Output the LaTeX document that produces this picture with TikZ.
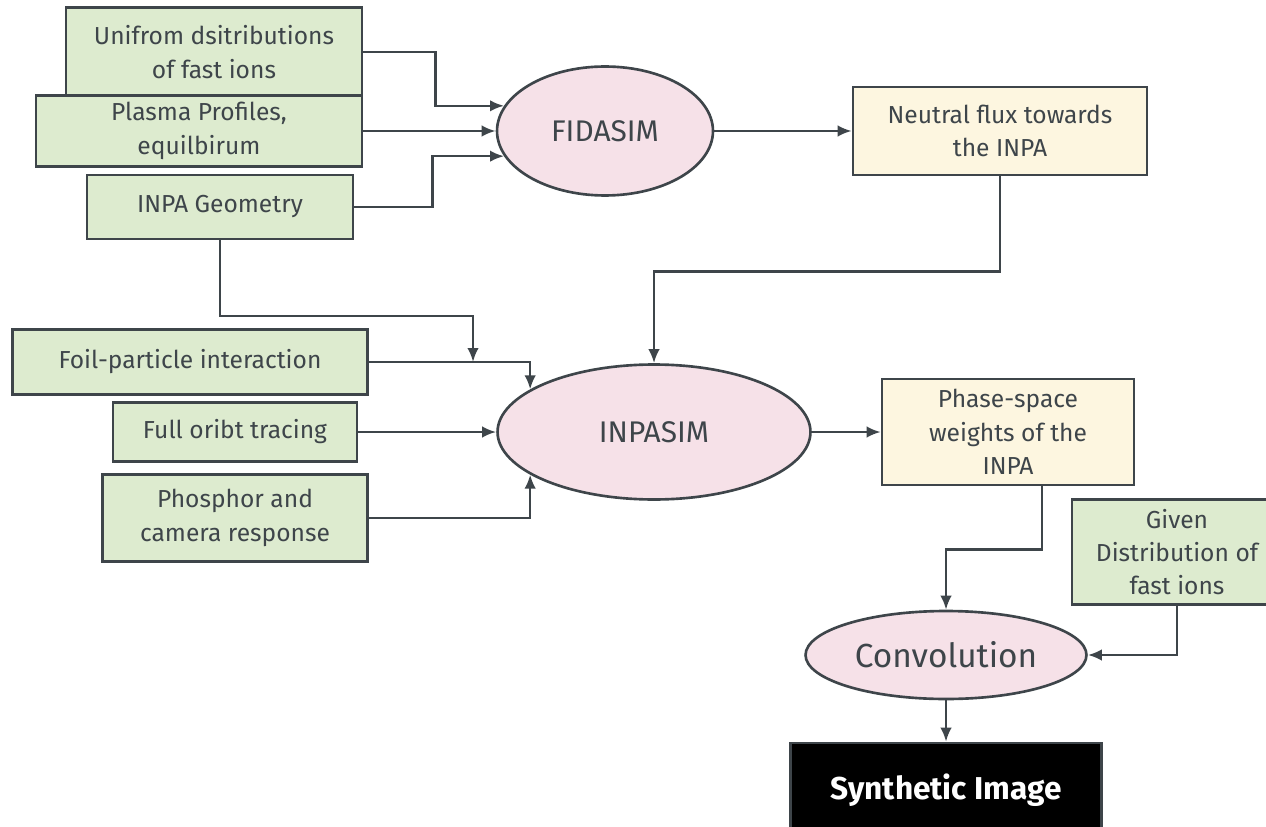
\documentclass[tikz,border=0pt]{standalone}
\usepackage{fontspec}
\setmainfont{Fira Sans}
\usetikzlibrary{arrows.meta}
\usetikzlibrary{positioning}
\usetikzlibrary{shapes.geometric}

\definecolor{boxgreen}{HTML}{DDEBCF}
\definecolor{boxyellow}{HTML}{FDF6E0}
\definecolor{ovalpink}{HTML}{F6E1E8}
\definecolor{edgegray}{HTML}{3E454A}

\begin{document}
\begin{tikzpicture}[x=0.02cm,y=-0.02cm,
    every node/.style={font=\fontsize{14}{19}\selectfont,text=edgegray,align=center},
    inbox/.style={rectangle,draw=edgegray,line width=1.5pt,fill=boxgreen,inner sep=2pt},
    outbox/.style={rectangle,draw=edgegray,line width=1.5pt,fill=boxyellow,inner sep=2pt},
    code/.style={ellipse,draw=edgegray,line width=1.5pt,fill=ovalpink,inner sep=0pt,
                 font=\fontsize{17}{20}\selectfont},
    link/.style={draw=edgegray,line width=1.4pt,-{Latex[length=2.8mm,width=2.3mm]}}]
                  \useasboundingbox (0,0) rectangle (1266,827);
                  % FIDASIM stage
                  \node [inbox,minimum width=5.92cm,minimum height=1.78cm] (ufi) at (214,52) {Unifrom dsitributions\\of fast ions};
                  \node [inbox,minimum width=6.52cm,minimum height=1.42cm] (prof) at (199,131) {Plasma Profiles,\\equilbirum};
                  \node [inbox,minimum width=5.32cm,minimum height=1.28cm] (geo) at (220,207) {INPA Geometry};
                  \node [code,minimum width=4.32cm,minimum height=2.58cm] (fida) at (605,131) {FIDASIM};
                  \node [outbox,minimum width=5.88cm,minimum height=1.76cm] (flux) at (1000,131) {Neutral flux towards\\the INPA};
                  % INPASIM stage
                  \node [inbox,minimum width=7.1cm,minimum height=1.3cm] (foil) at (190,362) {Foil-particle interaction};
                  \node [inbox,minimum width=4.88cm,minimum height=1.18cm] (orbit) at (235,432) {Full oribt tracing};
                  \node [inbox,minimum width=5.3cm,minimum height=1.74cm] (phos) at (235,518) {Phosphor and\\camera response};
                  \node [code,minimum width=6.26cm,minimum height=2.7cm] (inpa) at (654,432) {INPASIM};
                  \node [outbox,minimum width=5.04cm,minimum height=2.12cm] (wts) at (1008,432) {Phase-space\\weights of the\\INPA};
                  % convolution
                  \node [inbox,minimum width=4.2cm,minimum height=2.1cm] (dist) at (1177,552) {Given\\Distribution of\\fast ions};
                  \node [code,minimum width=5.62cm,minimum height=1.76cm,font=\fontsize{19}{22}\selectfont] (conv) at (946,655) {Convolution};
                  \node [rectangle,draw=edgegray,line width=1.5pt,fill=black,text=white,
                         minimum width=6.22cm,minimum height=1.88cm,
                         font=\fontsize{18}{22}\selectfont\bfseries] (synth) at (946,790) {Synthetic Image};
                  \coordinate (bend) at (473,316);
                  \coordinate (join) at (473,362);
                  \path [link] (ufi.east) -- ++(72,0) |- (fida.166);
                  \path [link] (prof.east) -- (fida.west);
                  \path [link] (geo.east) -- ++(78,0) |- (fida.194);
                  \path [link] (fida.east) -- (flux.west);
                  \path [link] (flux.south) -- ++(0,95) -| (inpa.north);
                  \path [link] (geo.south) |- (bend) -- (join);
                  \path [link] (foil.east) -| (inpa.161);
                  \path [link] (orbit.east) -- (inpa.west);
                  \path [link] (phos.east) -| (inpa.199);
                  \path [link] (inpa.east) -- (wts.west);
                  \path [link] ([xshift=0.68cm]wts.south) -- ++(0,63) -| (conv.north);
                  \path [link] (dist.south) |- (conv.east);
                  \path [link] (conv.south) -- (synth.north);
\end{tikzpicture}
\end{document}
